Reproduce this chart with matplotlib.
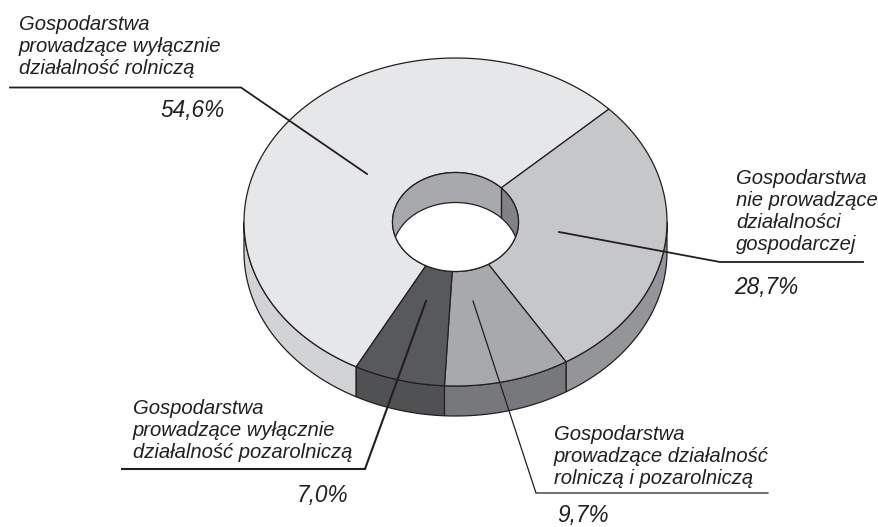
import numpy as np
import matplotlib
matplotlib.use("Agg")
import matplotlib.pyplot as plt
from matplotlib.patches import Ellipse, Polygon, Rectangle

# ------------------------------
# DATA
# ------------------------------
shares = [54.6, 28.7, 9.7, 7.0]
# the drawn slices differ a little from the printed shares, degrees
slice_deg = [198.5, 102.0, 34.5, 25.0]
labels = [
    "Gospodarstwa\nprowadzące wyłącznie\ndziałalność rolniczą",
    "Gospodarstwa\nnie prowadzące\ndziałalności\ngospodarczej",
    "Gospodarstwa\nprowadzące działalność\nrolniczą i pozarolniczą",
    "Gospodarstwa\nprowadzące wyłącznie\ndziałalność pozarolniczą",
]
top_colors = ["#e6e7e8", "#c6c7c9", "#a7a9ac", "#58595b"]
side_colors = ["#d1d3d4", "#939598", "#77787b", "#505153"]

# ------------------------------
# LAYOUT (pixels)
# ------------------------------
CX, CY = 455.5, 222
RX, RY = 211.5, 164
HOLE_RX, HOLE_RY = 63, 49.5
DEPTH = 30
END_FIRST = 43.5  # first slice ends here going clockwise
INK = "#231f20"

label_pos = [(19, 74), (736, 250), (554, 484), (133, 458)]
pct_pos = [(225, 117), (798, 294), (609, 522), (348, 502)]
leaders = [
    [(10, 87.5), (241, 87.5), (367, 174)],
    [(559, 232), (720, 262), (863, 262)],
    [(473, 301), (536, 493), (768, 493)],
    [(426, 301), (365, 469), (122, 469)],
]
leader_w = [1.3, 1.3, 0.9, 1.5]


def arc(rx, ry, a0, a1, dy=0, n=120):
    t = np.radians(np.linspace(a0, a1, n))
    return np.column_stack([CX + rx * np.cos(t), CY + dy - ry * np.sin(t)])


fig = plt.figure(figsize=(8.79, 5.27), dpi=100)
ax = fig.add_axes([0, 0, 1, 1])
ax.set_xlim(0, 879)
ax.set_ylim(527, 0)
ax.axis("off")

# slice angles, clockwise from the start of the first slice
edges = END_FIRST + slice_deg[0] - np.cumsum([0] + slice_deg)
edges_a = edges[:-1]
edges_b = edges[1:]

# ------------------------------
# OUTER WALL
# ------------------------------
for a0, a1, c in zip(edges_a, edges_b, side_colors):
    # the visible front half runs from 180 to 360 deg
    for shift in (0, 360):
        s0, s1 = max(a1 + shift, 180), min(a0 + shift, 360)
        if s1 <= s0:
            continue
        pts = np.vstack([arc(RX, RY, s0, s1), arc(RX, RY, s1, s0, DEPTH)])
        ax.add_patch(Polygon(pts, closed=True, fc=c, ec=INK, lw=0.9, zorder=1))

# ------------------------------
# TOP FACE
# ------------------------------
for a0, a1, c in zip(edges_a, edges_b, top_colors):
    pts = np.vstack([arc(RX, RY, a0, a1), arc(HOLE_RX, HOLE_RY, a1, a0)])
    ax.add_patch(Polygon(pts, closed=True, fc=c, ec=INK, lw=0.9, zorder=2))

# ------------------------------
# HOLE
# ------------------------------
hole = Ellipse((CX, CY), 2 * HOLE_RX, 2 * HOLE_RY, fc="#a7a9ac", ec="none", zorder=3)
ax.add_patch(hole)
split_x = CX + HOLE_RX * np.cos(np.radians(END_FIRST))
split_y = CY - HOLE_RY * np.sin(np.radians(END_FIRST))
right_wall = Rectangle((split_x, CY - HOLE_RY), HOLE_RX, 2 * HOLE_RY,
                       fc="#808285", ec="none", zorder=3.1)
ax.add_patch(right_wall)
right_wall.set_clip_path(hole)
ax.plot([split_x, split_x], [split_y, split_y + DEPTH], color=INK, lw=1.0, zorder=3.2)
floor = Ellipse((CX, CY + DEPTH), 2 * HOLE_RX, 2 * HOLE_RY, fc="white", ec=INK, lw=0.9, zorder=3.3)
ax.add_patch(floor)
floor.set_clip_path(hole)
ax.add_patch(Ellipse((CX, CY), 2 * HOLE_RX, 2 * HOLE_RY, fc="none", ec=INK, lw=0.9, zorder=3.4))

# ------------------------------
# LEADERS AND TEXT
# ------------------------------
for pts, w in zip(leaders, leader_w):
    xs, ys = zip(*pts)
    ax.plot(xs, ys, color=INK, lw=w, solid_joinstyle="miter", zorder=5)

for lab, (x, y) in zip(labels, label_pos):
    ax.text(x, y, lab, family="Liberation Sans", style="italic", fontsize=14.6,
            color=INK, ha="left", va="baseline", linespacing=1.19, zorder=6)

for val, (x, y) in zip(shares, pct_pos):
    ax.text(x, y, f"{val:.1f}%".replace(".", ","), family="Liberation Sans", style="italic",
            fontsize=16.3, color=INK, ha="right", va="baseline", zorder=6)

fig.savefig("out.png", dpi=100)
